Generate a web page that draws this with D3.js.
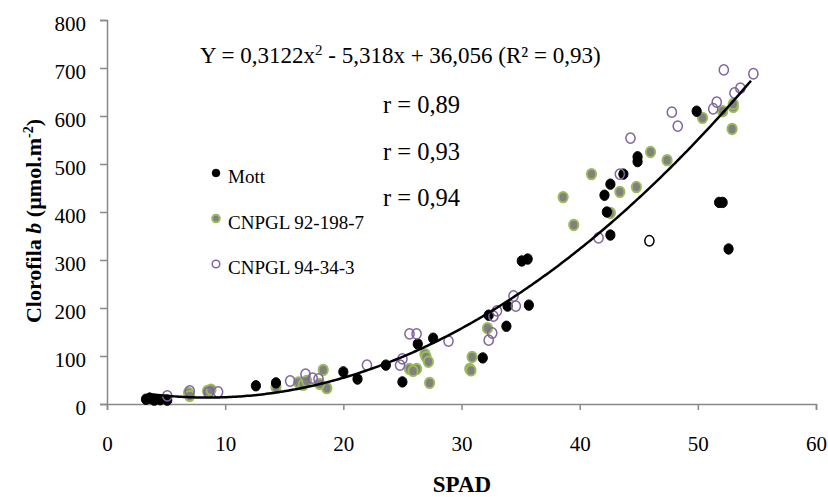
<!DOCTYPE html>
<html>
<head>
<meta charset="utf-8">
<title>Clorofila b x SPAD</title>
<script src="https://cdn.jsdelivr.net/npm/d3@7"></script>
<style>
  body { margin: 0; background: #fff; }
  .axis path, .axis line { stroke: #888; stroke-width: 1.5; }
</style>
</head>
<body>
<script>
// SPAD, clorofila b
var mott = [[3.3,10],[3.6,12],[4.0,8],[4.5,9],[5.1,8],[12.6,38],[14.3,44],[20.0,67],[21.2,52],
  [23.6,81],[25.0,46],[26.3,125],[27.6,137],[31.8,96],[32.3,185],[33.8,162],[33.9,204],
  [35.1,298],[35.6,302],[35.7,206],[42.1,435],[42.3,400],[42.6,458],[42.6,352],[43.7,479],
  [44.9,505],[44.9,515],[49.9,610],[51.8,420],[52.1,420],[52.6,323]];
var mottOpen = [[45.9,340]];
var cnpgl92 = [[6.9,23],[7.0,17],[8.5,27],[8.8,30],[14.3,35],[16.3,44],[16.2,45],[16.6,40],
  [16.9,48],[18.3,71],[18.6,33],[18.0,42],[25.6,73],[26.2,73],[25.9,69],[26.9,104],[27.0,98],
  [27.2,88],[27.3,44],[30.9,98],[30.7,73],[30.8,70],[32.2,158],[38.6,431],[39.5,373],[41.0,479],
  [42.6,398],[43.4,442],[44.8,452],[46.0,525],[47.4,508],[50.4,596],[52.1,610],[53.0,619],
  [53.0,625],[52.9,573]];
var cnpgl94 = [[5.1,17],[7.0,27],[8.6,24],[9.4,25],[15.5,48],[16.8,62],[17.4,54],[17.9,52],
  [22.0,81],[24.8,81],[25.0,94],[25.6,146],[26.2,146],[28.9,131],[32.3,133],[32.6,148],
  [32.7,183],[33.0,194],[34.4,225],[34.6,204],[41.6,346],[43.4,479],[44.3,554],[47.8,608],
  [48.3,579],[51.3,615],[51.6,629],[52.2,696],[53.1,648],[53.6,658],[54.7,688]];
// Y = a x^2 + b x + c  (equação mostrada no gráfico)
var coef = [0.3122, -5.318, 36.056];
var trendRange = [3.5, 54.6];
var xTicks = [0,10,20,30,40,50,60];
var yTicks = [0,100,200,300,400,500,600,700,800];
var rLabels = ["r = 0,89", "r = 0,93", "r = 0,94"];

var serif = '"Liberation Serif", "Times New Roman", serif';
var width = 828, height = 497;
var svg = d3.select("body").append("svg").attr("width", width).attr("height", height);

var x = d3.scaleLinear().domain([0, 60]).range([107, 816]);
var y = d3.scaleLinear().domain([0, 800]).range([404, 20]);

var gx = svg.append("g").attr("class", "axis")
  .attr("transform", "translate(0," + y(0) + ")")
  .call(d3.axisBottom(x).tickValues(xTicks).tickSizeOuter(0).tickSize(6).tickPadding(26));
var gy = svg.append("g").attr("class", "axis")
  .attr("transform", "translate(" + x(0) + ",0)")
  .call(d3.axisLeft(y).tickValues(yTicks).tickSizeOuter(0).tickSize(7).tickPadding(14));
gy.selectAll("text").attr("dy", "0.5em");
svg.selectAll(".axis").attr("font-family", serif).attr("font-size", 21);
svg.selectAll(".axis text").style("font-family", serif).style("font-size", "21px").attr("fill", "#000");

// linha de tendência
var curve = d3.range(trendRange[0], trendRange[1] + 0.001, 0.2).map(function(v) {
  return [v, coef[0]*v*v + coef[1]*v + coef[2]];
});

// pontos
function dots(data, fill, stroke, sw) {
  svg.append("g").selectAll("ellipse").data(data).enter().append("ellipse")
    .attr("cx", function(d) { return x(d[0]); })
    .attr("cy", function(d) { return y(d[1]); })
    .attr("rx", 4.6).attr("ry", 5.2)
    .attr("fill", fill).attr("stroke", stroke).attr("stroke-width", sw);
}
dots(cnpgl92, "#808080", "#9bbb59", 2);
dots(mott, "#000", "#000", 1);
dots(mottOpen, "none", "#000", 1.5);
dots(cnpgl94, "none", "#8064a2", 1.5);

svg.append("path").datum(curve)
  .attr("fill", "none").attr("stroke", "#000").attr("stroke-width", 2.5)
  .attr("d", d3.line().x(function(d) { return x(d[0]); }).y(function(d) { return y(d[1]); }));

// equação
var eq = svg.append("text").attr("x", 200).attr("y", 63).attr("font-size", 23);
eq.append("tspan").text("Y = 0,3122x");
eq.append("tspan").attr("dy", -8).attr("font-size", 15).text("2");
eq.append("tspan").attr("dy", 8).text(" - 5,318x + 36,056 (R² = 0,93)");

svg.selectAll(".rlab").data(rLabels).enter().append("text")
  .attr("x", 383).attr("y", function(d, i) { return 113 + i * 46.5; })
  .attr("font-size", 24.5).text(function(d) { return d; });

// legenda
var legend = [
  {name: "Mott", fill: "#000", stroke: "#000", sw: 1},
  {name: "CNPGL 92-198-7", fill: "#808080", stroke: "#9bbb59", sw: 2},
  {name: "CNPGL 94-34-3", fill: "none", stroke: "#8064a2", sw: 1.5}
];
var lg = svg.append("g").selectAll("g").data(legend).enter().append("g")
  .attr("transform", function(d, i) { return "translate(216," + (173 + i * 45.5) + ")"; });
lg.append("circle").attr("r", 3.8)
  .attr("fill", function(d) { return d.fill; })
  .attr("stroke", function(d) { return d.stroke; })
  .attr("stroke-width", function(d) { return d.sw; });
lg.append("text").attr("x", 12).attr("y", 10).attr("font-size", 19)
  .text(function(d) { return d.name; });

// títulos dos eixos
svg.append("text").attr("x", 462).attr("y", 492).attr("text-anchor", "middle")
  .attr("font-size", 23).attr("font-weight", "bold").text("SPAD");
var yt = svg.append("text").attr("transform", "translate(41,221) rotate(-90)")
  .attr("text-anchor", "middle").attr("font-size", 22).attr("font-weight", "bold");
yt.append("tspan").text("Clorofila ");
yt.append("tspan").attr("font-style", "italic").text("b");
yt.append("tspan").text(" (µmol.m");
yt.append("tspan").attr("dy", -8).attr("font-size", 14).text("-2");
yt.append("tspan").attr("dy", 8).text(")");

svg.selectAll("text").style("font-family", serif);
</script>
</body>
</html>
